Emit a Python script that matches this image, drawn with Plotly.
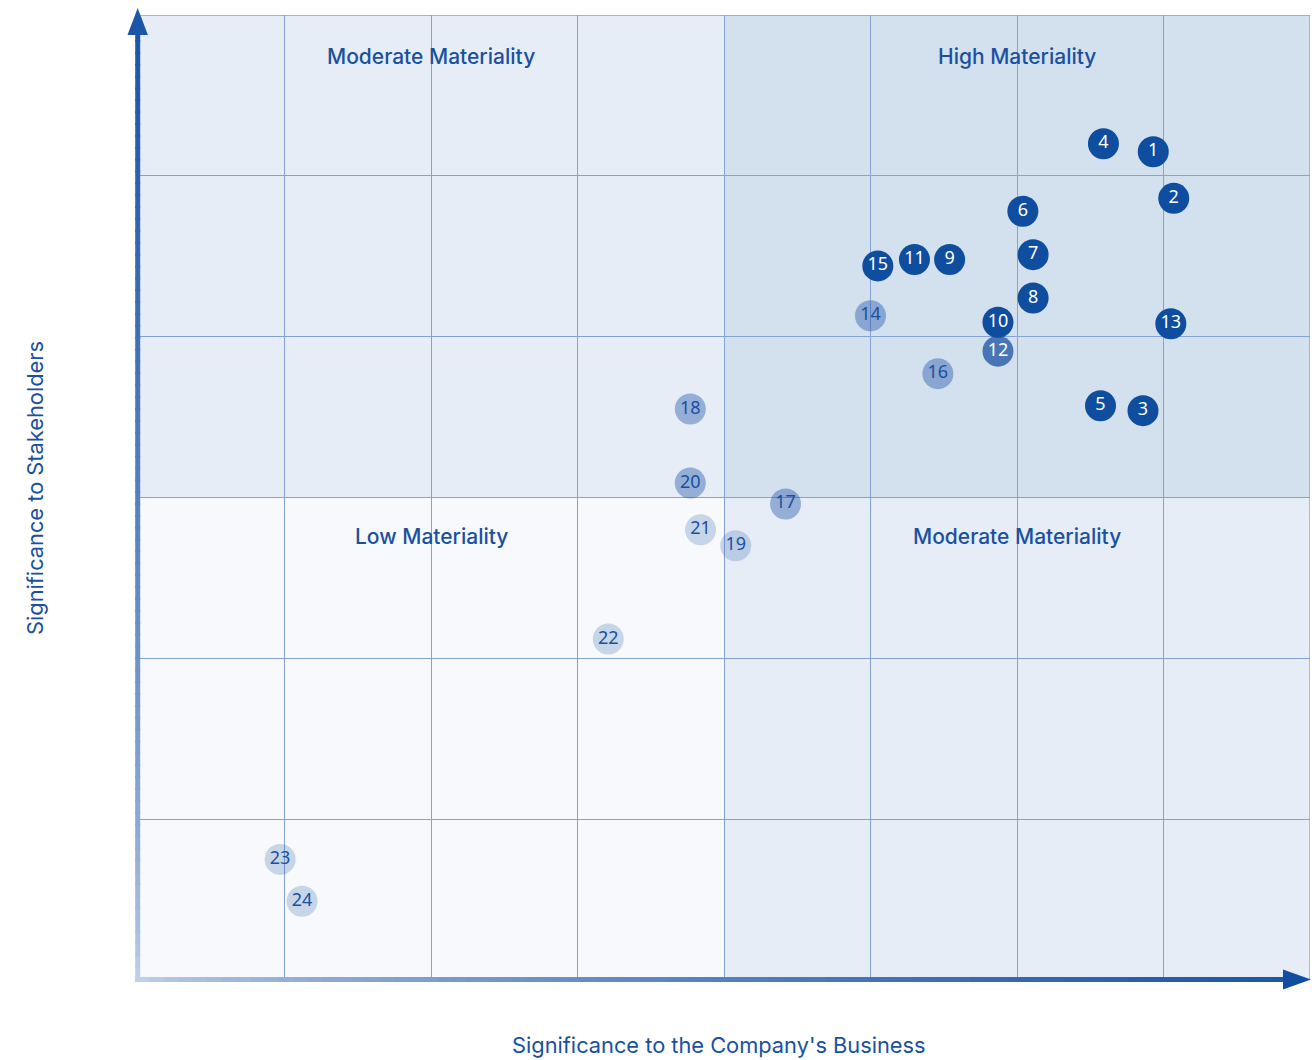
import plotly.graph_objects as go

# ---- data ----
topic_ids = [str(i) for i in range(1, 25)]
business_significance = [6.93, 7.07, 6.86, 6.59, 6.57, 6.04, 6.11, 6.11, 5.54, 5.87,
                         5.30, 5.87, 7.05, 5.00, 5.05, 5.46, 4.42, 3.77, 4.08, 3.77,
                         3.84, 3.21, 0.97, 1.12]
stakeholder_significance = [5.15, 4.86, 3.54, 5.20, 3.57, 4.78, 4.51, 4.24, 4.48, 4.09,
                            4.48, 3.91, 4.08, 4.13, 4.44, 3.77, 2.96, 3.55, 2.70, 3.09,
                            2.80, 2.12, 0.75, 0.49]
tier = ["high", "high", "high", "high", "high", "high", "high", "high", "high", "high",
        "high", "mid_high", "high", "mid", "high", "mid", "mid", "mid", "low", "mid",
        "low", "low", "low", "low"]

quadrant_labels = ["Moderate Materiality", "High Materiality", "Low Materiality", "Moderate Materiality"]
quadrant_label_x = [2, 6, 2, 6]
quadrant_label_y = [5.74, 5.74, 2.76, 2.76]

x_title = "Significance to the Company's Business"
y_title = "Significance to Stakeholders"

X_MAX, Y_MAX = 8, 6

# ---- styles ----
DARK = "#1a50a0"
tier_style = {
    "low": ("rgba(25,80,165,0.21)", DARK),
    "mid": ("rgba(25,80,165,0.40)", DARK),
    "mid_high": ("rgba(20,75,160,0.72)", "white"),
    "high": ("#0f4d9f", "white"),
}
grid_color = "#84a2d3"

fig = go.Figure()

for t in ["low", "mid", "mid_high", "high"]:
    idx = [i for i, v in enumerate(tier) if v == t]
    fill, tcol = tier_style[t]
    fig.add_trace(go.Scatter(
        x=[business_significance[i] for i in idx],
        y=[stakeholder_significance[i] for i in idx],
        text=[topic_ids[i] for i in idx],
        mode="markers+text",
        textposition="middle center",
        marker=dict(size=31, color=fill, line=dict(width=0)),
        textfont=dict(family="Noto Sans", size=18, color=tcol),
        hoverinfo="skip",
        showlegend=False,
    ))

shapes = []
# quadrant backgrounds
quads = [
    (0, X_MAX / 2, Y_MAX / 2, Y_MAX, "#e6edf7"),
    (X_MAX / 2, X_MAX, Y_MAX / 2, Y_MAX, "#d3e0ee"),
    (0, X_MAX / 2, 0, Y_MAX / 2, "#f7f9fc"),
    (X_MAX / 2, X_MAX, 0, Y_MAX / 2, "#e6edf7"),
]
for x0, x1, y0, y1, c in quads:
    shapes.append(dict(type="rect", xref="x", yref="y", x0=x0, x1=x1, y0=y0, y1=y1,
                       fillcolor=c, line=dict(width=0), layer="below"))
shapes.append(dict(type="rect", xref="x", yref="y", x0=0, x1=X_MAX, y0=0, y1=Y_MAX,
                   line=dict(color=grid_color, width=1.3), layer="below"))

# gradient arrows (paper coords)
W, H = 1172.0, 965.0
light = (200, 214, 235)
dark = (28, 86, 168)


def mix(f):
    f = f ** 0.6
    r = int(light[0] + (dark[0] - light[0]) * f)
    g = int(light[1] + (dark[1] - light[1]) * f)
    b = int(light[2] + (dark[2] - light[2]) * f)
    return f"rgb({r},{g},{b})"


N = 80
# y axis
y_top = (980 - 30) / H
y_bot = 0.0
for k in range(N):
    a = y_bot + (y_top - y_bot) * k / N
    b = y_bot + (y_top - y_bot) * (k + 1) / N + 0.002
    shapes.append(dict(type="line", xref="paper", yref="paper", x0=-0.3 / W, x1=-0.3 / W,
                       y0=a, y1=min(b, y_top), line=dict(color=mix((k + 0.5) / N), width=5),
                       layer="above"))
tipy = (980 - 8) / H
basey = (980 - 35) / H
shapes.append(dict(type="path", xref="paper", yref="paper",
                   path=f"M {-10.5/W} {basey} L {-0.3/W} {tipy} L {9.9/W} {basey} Z",
                   fillcolor=mix(1.0), line=dict(width=0), layer="above"))

# x axis
x_left = -3 / W
x_right = (1288 - 138) / W
yl = 0.5 / H
for k in range(N):
    a = x_left + (x_right - x_left) * k / N
    b = x_left + (x_right - x_left) * (k + 1) / N + 0.002
    shapes.append(dict(type="line", xref="paper", yref="paper", x0=a, x1=min(b, x_right),
                       y0=yl, y1=yl, line=dict(color=mix((k + 0.5) / N), width=5),
                       layer="above"))
tipx = (1311 - 138) / W
basex = (1283 - 138) / W
shapes.append(dict(type="path", xref="paper", yref="paper",
                   path=f"M {basex} {yl + 10/H} L {tipx} {yl} L {basex} {yl - 10/H} Z",
                   fillcolor="#114ea0", line=dict(width=0), layer="above"))

annotations = []
for lab, lx, ly in zip(quadrant_labels, quadrant_label_x, quadrant_label_y):
    annotations.append(dict(x=lx, y=ly, xref="x", yref="y", text=lab, showarrow=False,
                            xanchor="center", yanchor="middle",
                            font=dict(family="Inter", size=21, color=DARK, weight=500)))
annotations.append(dict(x=(719 - 138) / W, y=(980 - 1045) / H, xref="paper", yref="paper",
                        text=x_title, showarrow=False, xanchor="center", yanchor="middle",
                        font=dict(family="Inter", size=21.8, color=DARK)))
annotations.append(dict(x=(35 - 138) / W, y=(980 - 488) / H, xref="paper", yref="paper",
                        text=y_title, showarrow=False, textangle=-90,
                        xanchor="center", yanchor="middle",
                        font=dict(family="Inter", size=21.8, color=DARK)))

fig.update_layout(
    width=1315, height=1060,
    margin=dict(l=138, r=5, t=15, b=80),
    paper_bgcolor="white",
    plot_bgcolor="rgba(0,0,0,0)",
    shapes=shapes,
    annotations=annotations,
    xaxis=dict(range=[0, X_MAX], dtick=1, tick0=0, showgrid=True, gridcolor=grid_color,
               gridwidth=1.3, zeroline=False, showline=False, showticklabels=False,
               ticks="", fixedrange=True),
    yaxis=dict(range=[0, Y_MAX], dtick=1, tick0=0, showgrid=True, gridcolor=grid_color,
               gridwidth=1.3, zeroline=False, showline=False, showticklabels=False,
               ticks="", fixedrange=True),
)

fig.write_html("out.html")
